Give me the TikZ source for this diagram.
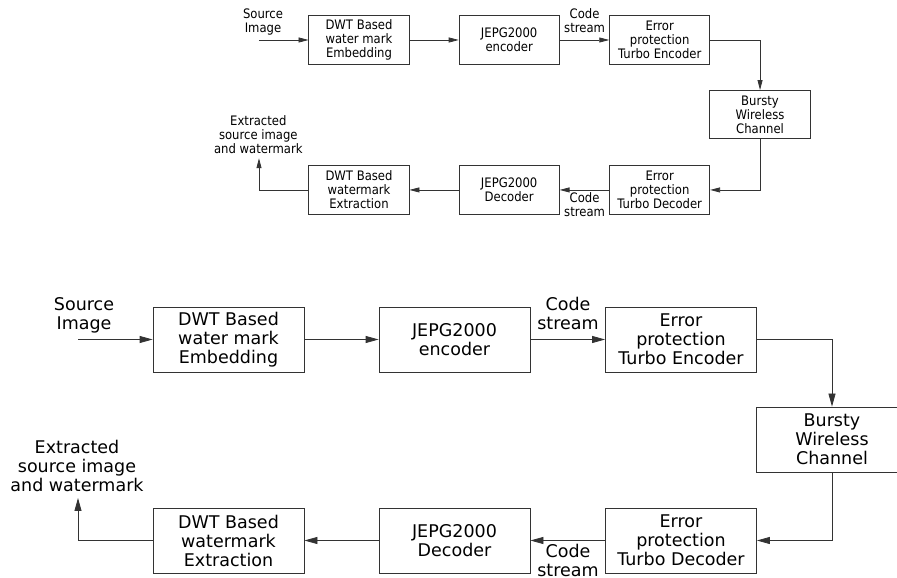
\documentclass[tikz,border=0pt]{standalone}
\usepackage{fontspec}
\setmainfont{DejaVu Sans}
\usetikzlibrary{arrows.meta}

\tikzset{
  blk/.style={draw=black!80,line width=0.8pt,minimum width=151pt,minimum height=65pt,
    inner sep=0pt,align=center,font=\fontsize{17.5}{19}\selectfont},
  lbl/.style={align=center,inner sep=0pt,font=\fontsize{17.5}{19}\selectfont},
  flow/.style={draw=black!80,line width=0.8pt,-{Triangle[length=13pt,width=7pt]}},
}

% one copy of the chain, names prefixed by #1
\newcommand{\wmchain}[1]{%
  \node[blk] (#1emb) at (0,0) {DWT Based\\water mark\\Embedding};
  \node[blk] (#1enc) at (226,0) {JEPG2000\\encoder};
  \node[blk] (#1ten) at (452.5,0) {Error\\protection\\Turbo Encoder};
  \node[blk] (#1ch) at (603.5,-100) {Bursty\\Wireless\\Channel};
  \node[blk] (#1tde) at (452.5,-201) {Error\\protection\\Turbo Decoder};
  \node[blk] (#1dec) at (226,-201) {JEPG2000\\Decoder};
  \node[blk] (#1ext) at (0,-201) {DWT Based\\watermark\\Extraction};
  \coordinate (#1src) at (-150.5,0);
  \coordinate (#1out) at (-150.5,-158.5);
  \node[lbl] (#1srclbl) at (-144.5,24.5) {Source\\Image};
  \node[lbl] (#1outlbl) at (-151.5,-126.5) {Extracted\\source image\\and watermark};
  \node[lbl] (#1csup) at (339.5,26) {Code\\stream};
  \node[lbl] (#1csdn) at (339.5,-221) {Code\\stream};
  \draw[flow] (#1src) -- (#1emb);
  \draw[flow] (#1emb) -- (#1enc);
  \draw[flow] (#1enc) -- (#1ten);
  \draw[flow] (#1ten) -| (#1ch);
  \draw[flow] (#1ch) |- (#1tde);
  \draw[flow] (#1tde) -- (#1dec);
  \draw[flow] (#1dec) -- (#1ext);
  \draw[flow] (#1ext) -| (#1out);
}

\begin{document}
\begin{tikzpicture}[x=1pt,y=1pt]
  \path[use as bounding box,clip] (0,0) rectangle (897,578);
  \begin{scope}[shift={(359,538)},xscale=0.6645,yscale=0.746,transform shape,
      flow/.style={draw=black!80,line width=0.8pt,-{Triangle[length=10pt,width=5pt]}}]
    \wmchain{s}
  \end{scope}
  \begin{scope}[shift={(228.5,238.5)}]
    \wmchain{b}
  \end{scope}
\end{tikzpicture}
\end{document}
